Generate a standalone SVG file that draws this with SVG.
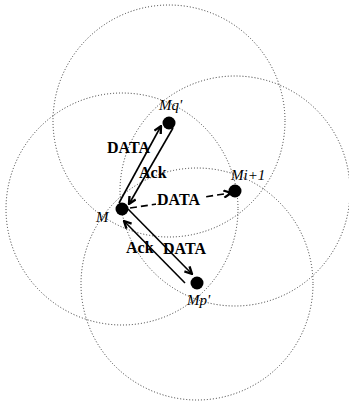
<svg xmlns="http://www.w3.org/2000/svg" width="349" height="404" viewBox="0 0 349 404">
<style>
.rng{fill:none;stroke:#333;stroke-width:1;stroke-dasharray:1,2}
.dot{fill:#000}
.nl{font-family:"Liberation Serif",serif;font-style:italic;font-size:15px;fill:#000}
.el{font-family:"Liberation Serif",serif;font-weight:bold;font-size:16px;fill:#000}
.ln{stroke:#000;stroke-width:1.6;fill:none}
.dash{stroke-dasharray:7,4}
</style>
<defs>
<marker id="ah" viewBox="0 0 10 10" refX="9" refY="5" markerWidth="9" markerHeight="9" markerUnits="userSpaceOnUse" orient="auto">
<path d="M1,1 L9,5 L1,9" fill="none" stroke="#000" stroke-width="2.6"/>
</marker>
</defs>
<rect width="349" height="404" fill="#fff"/>
<g id="ranges">
<circle class="rng" cx="169" cy="121" r="116"/>
<circle class="rng" cx="122" cy="209" r="116"/>
<circle class="rng" cx="235" cy="191" r="115"/>
<circle class="rng" cx="197" cy="284" r="116"/>
</g>
<g id="connectors">
<line class="ln" x1="119" y1="203" x2="161" y2="126" marker-end="url(#ah)"/>
<line class="ln" x1="173" y1="128" x2="129" y2="204" marker-end="url(#ah)"/>
<line class="ln dash" x1="130" y1="208" x2="231" y2="193" marker-end="url(#ah)"/>
<line class="ln" x1="128" y1="209" x2="192" y2="274" marker-end="url(#ah)"/>
<line class="ln" x1="185" y1="283" x2="124" y2="221" marker-end="url(#ah)"/>
</g>
<g id="labels">
<text class="el" x="107" y="153">DATA</text>
<text class="el" x="139" y="178">Ack</text>
<rect x="156" y="194" width="47" height="13" fill="#fff"/>
<text class="el" x="157" y="205">DATA</text>
<text class="el" x="126" y="253">Ack</text>
<text class="el" x="163" y="254">DATA</text>
</g>
<g id="node-Mq">
<circle class="dot" cx="169" cy="123" r="6.5"/>
<text class="nl" x="159" y="110">Mq'</text>
</g>
<g id="node-M">
<circle class="dot" cx="122" cy="209" r="6.5"/>
<text class="nl" x="96" y="222">M</text>
</g>
<g id="node-Mi1">
<circle class="dot" cx="235" cy="191" r="6.5"/>
<text class="nl" x="231" y="180">Mi+1</text>
</g>
<g id="node-Mp">
<circle class="dot" cx="197" cy="283" r="6.5"/>
<text class="nl" x="187" y="305">Mp'</text>
</g>
</svg>
